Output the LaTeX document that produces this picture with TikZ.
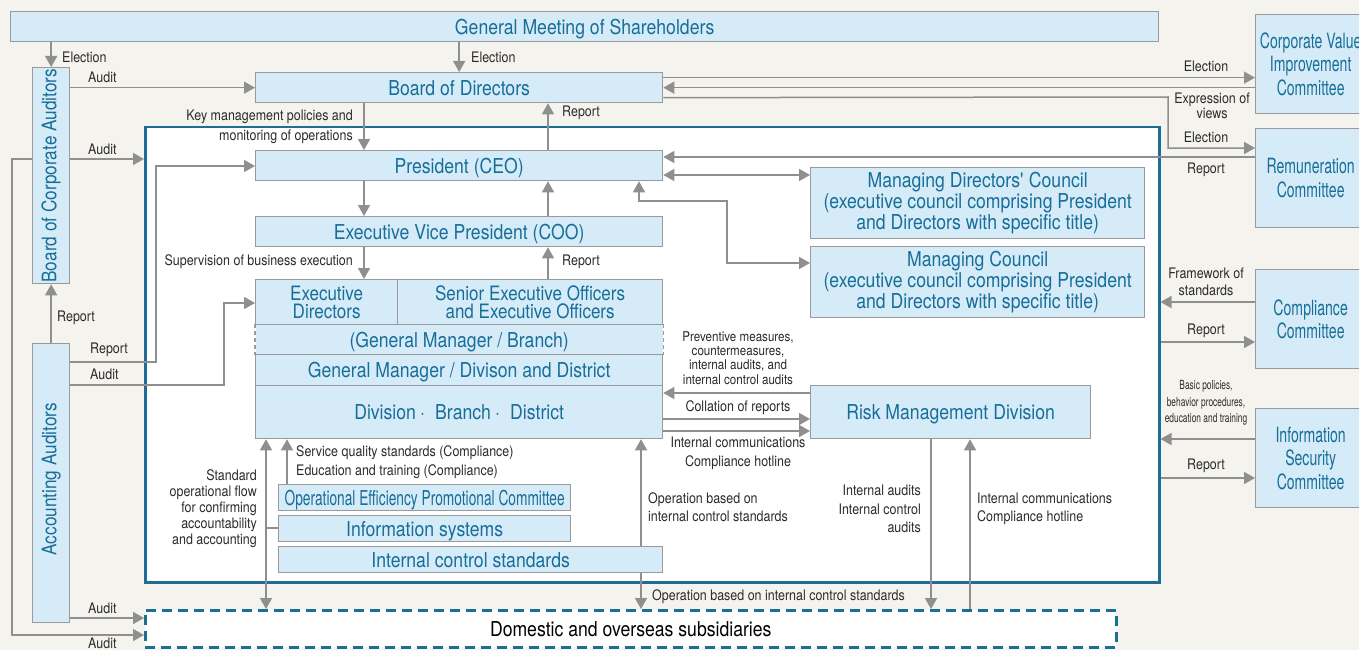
\documentclass[tikz,border=0pt]{standalone}
\usepackage{fontspec}
\setmainfont{TeX Gyre Heros}[FakeStretch=0.86]
\newfontfamily\condfont{TeX Gyre Heros}[FakeStretch=0.67]
\usetikzlibrary{arrows.meta}

\definecolor{bgcol}{HTML}{F5F3EE}
\definecolor{boxfill}{HTML}{D5EBF8}
\definecolor{boxline}{HTML}{9A9A9A}
\definecolor{boxtext}{HTML}{176E99}
\definecolor{framecol}{HTML}{1C6E95}
\definecolor{arrowcol}{HTML}{8F8F8F}
\definecolor{labelcol}{HTML}{2B2B2B}

\begin{document}
\begin{tikzpicture}[x=1pt,y=-1pt,
  box/.style={draw=boxline, fill=boxfill, line width=1.3pt, inner sep=0pt, text=boxtext,
    align=center, anchor=north west, font=\fontsize{20.5}{21}\selectfont},
  oneline/.style={text height=16pt, text depth=1pt},
  cbox/.style={box, font=\condfont\fontsize{21}{23.5}\selectfont},
  vtext/.style={text=boxtext, rotate=90, inner sep=0pt, font=\fontsize{20}{21}\selectfont},
  lbl/.style={text=labelcol, inner sep=0pt, font=\fontsize{14.5}{17}\selectfont},
  arr/.style={draw=arrowcol, line width=1.5pt, -{Triangle[width=12pt,length=11pt]}},
  darr/.style={draw=arrowcol, line width=1.5pt, {Triangle[width=12pt,length=11pt]}-{Triangle[width=12pt,length=11pt]}},
  wire/.style={draw=arrowcol, line width=1.5pt},
]
\useasboundingbox (0,0) rectangle (1359,650);
\clip (0,0) rectangle (1359,650);
\fill[bgcol] (0,0) rectangle (1359,650);

% ---- company frame and subsidiaries ----
\node[draw=framecol, fill=white, line width=2.5pt, minimum width=1014, minimum height=455,
  anchor=north west, inner sep=0pt] (frame) at (144,126) {};
\node[draw=framecol, fill=white, line width=2.5pt, dash pattern=on 10pt off 6pt,
  minimum width=971, minimum height=37, anchor=north west, inner sep=0pt, oneline,
  font=\fontsize{20.5}{21}\selectfont, text=black] (subs) at (144,609) {Domestic and overseas subsidiaries};

% ---- boxes ----
\node[box, oneline, minimum width=1148, minimum height=30] (gms) at (10,11) {General Meeting of Shareholders};
\node[box, minimum width=37, minimum height=216] (bca) at (32,67) {};
\node[vtext] (bcat) at (bca.center) {Board of Corporate Auditors};
\node[box, minimum width=37, minimum height=279] (aa) at (32,343) {};
\node[vtext] (aat) at ([yshift=4]aa.center) {Accounting Auditors};

\node[box, oneline, minimum width=407, minimum height=30] (bod) at (255,72) {Board of Directors};
\node[box, oneline, minimum width=407, minimum height=30] (pres) at (255,150) {President (CEO)};
\node[box, oneline, minimum width=407, minimum height=30] (evp) at (255,216) {Executive Vice President (COO)};

\node[box, oneline, draw=none, minimum width=407, minimum height=30] (gmb) at (255,324) {(General Manager / Branch)};
\draw[boxline, line width=1.3pt, dash pattern=on 4pt off 3pt]
  (gmb.north west) -- (gmb.south west) (gmb.north east) -- (gmb.south east);
\node[box, minimum width=142, minimum height=45, font=\fontsize{19.8}{18.4}\selectfont] (ed) at (255,279) {Executive\\Directors};
\node[box, minimum width=265, minimum height=45, font=\fontsize{19.8}{18.4}\selectfont] (seo) at (397,279) {Senior Executive Officers\\and Executive Officers};
\node[box, oneline, minimum width=407, minimum height=31] (gmd) at (255,354) {General Manager / Divison and District};
\node[box, oneline, minimum width=407, minimum height=53] (dbd) at (255,385)
  {Division\hspace{0.2em}·\hspace{0.5em}Branch\hspace{0.2em}·\hspace{0.5em}District};

\node[box, minimum width=334, minimum height=71] (mdc) at (810,167)
  {Managing Directors\textquotesingle\ Council\\(executive council comprising President\\and Directors with specific title)};
\node[box, minimum width=334, minimum height=71] (mc) at (810,246)
  {Managing Council\\(executive council comprising President\\and Directors with specific title)};
\node[box, oneline, minimum width=280, minimum height=53] (rmd) at (810,385) {Risk Management Division};

\node[cbox, minimum width=110, minimum height=99] (cvic) at (1255,14) {Corporate Value\\Improvement\\Committee};
\node[cbox, minimum width=110, minimum height=99] (rem) at (1255,128) {Remuneration\\Committee};
\node[cbox, minimum width=110, minimum height=99] (comp) at (1255,269) {Compliance\\Committee};
\node[cbox, minimum width=110, minimum height=99] (isc) at (1255,408) {Information\\Security\\Committee};

\node[box, oneline, minimum width=292, minimum height=26, font=\condfont\fontsize{20.5}{21}\selectfont] (oe) at (278,484)
  {Operational Efficiency Promotional Committee};
\node[box, oneline, minimum width=292, minimum height=26] (is) at (278,515) {Information systems};
\node[box, oneline, minimum width=384, minimum height=26] (ics) at (278,546) {Internal control standards};

% ---- connectors: shareholders, directors, executives ----
\draw[arr] (gms.south -| bca.north) -- (bca.north);
\draw[arr] (gms.south -| bod.north) -- (bod.north);
\draw[arr] (bca.east |- bod.west) -- (bod.west);
\draw[arr] (bca.east |- 0,159) -- (frame.west |- 0,159);
\draw[arr] (bod.south -| 364,0) -- (pres.north -| 364,0);
\draw[arr] (pres.north -| 548,0) -- (bod.south -| 548,0);
\draw[arr] (pres.south -| 364,0) -- (evp.north -| 364,0);
\draw[arr] (evp.north -| 548,0) -- (pres.south -| 548,0);
\draw[arr] (evp.south -| 364,0) -- (ed.north -| 364,0);
\draw[arr] (seo.north -| 548,0) -- (evp.south -| 548,0);

% ---- committees of the board ----
\draw[arr] ([yshift=10]bod.east) -- ([yshift=10]bod.east -| cvic.west);
\draw[arr] (cvic.west |- bod.east) -- (bod.east);
\coordinate (remA) at (1168,97);
\coordinate (remB) at (1168,148);
\draw[arr] ([yshift=-10]bod.east) -- (remA) -- (remB) -- (remB -| rem.west);
\draw[arr] (rem.west |- 0,157) -- (pres.east |- 0,157);
\draw[darr] (pres.east |- 0,175) -- (mdc.west |- 0,175);
\coordinate (mcA) at (639,201);
\coordinate (mcB) at (727,201);
\coordinate (mcC) at (727,263);
\draw[darr] (pres.south -| mcA) -- (mcA) -- (mcB) -- (mcC) -- (mcC -| mc.west);

% ---- auditors ----
\draw[arr] (aa.north) -- (bca.south);
\coordinate (aaR1) at (156,362);
\coordinate (aaR2) at (156,166);
\draw[arr] (aa.east |- aaR1) -- (aaR1) -- (aaR2) -- (aaR2 -| pres.west);
\coordinate (aaA1) at (224,385);
\coordinate (aaA2) at (224,303);
\draw[arr] (aa.east |- aaA1) -- (aaA1) -- (aaA2) -- (aaA2 -| ed.west);
\draw[arr] (aa.east |- 0,618) -- (subs.west |- 0,618);
\coordinate (loopA) at (12,159);
\coordinate (loopB) at (12,635);
\draw[arr] (bca.west |- loopA) -- (loopA) -- (loopB) -- (loopB -| subs.west);

% ---- risk management ----
\draw[arr] (rmd.west |- 0,393) -- (dbd.east |- 0,393);
\draw[arr] (dbd.east |- 0,419) -- (rmd.west |- 0,419);
\draw[arr] (dbd.east |- 0,431) -- (rmd.west |- 0,431);
\draw[arr] (rmd.south -| 931,0) -- (subs.north -| 931,0);
\draw[arr] (subs.north -| 970,0) -- (rmd.south -| 970,0);

% ---- standards and systems ----
\draw[arr] (ics.north -| 641,0) -- (dbd.south -| 641,0);
\draw[arr] (ics.south -| 641,0) -- (subs.north -| 641,0);
\draw[darr] (dbd.south -| 266,0) -- (subs.north -| 266,0);
\coordinate (isJ) at (266,528);
\draw[wire] (isJ) -- (isJ -| is.west);
\draw[arr] (oe.north -| 287,0) -- (dbd.south -| 287,0);

% ---- compliance and information security ----
\draw[arr] (comp.west |- 0,302) -- (frame.east |- 0,302);
\draw[arr] (frame.east |- 0,342) -- (comp.west |- 0,342);
\draw[arr] (isc.west |- 0,439) -- (frame.east |- 0,439);
\draw[arr] (frame.east |- 0,478) -- (isc.west |- 0,478);

% ---- labels ----
\node[lbl, anchor=west] (l1) at (62,57) {Election};
\node[lbl, anchor=west] (l2) at (471,57) {Election};
\node[lbl, anchor=west] (l3) at (88,77) {Audit};
\node[lbl, anchor=west] (l4) at (88,149) {Audit};
\node[lbl, anchor=east, align=right, font=\fontsize{14.5}{20}\selectfont] (l5) at (353,127)
  {Key management policies and\\monitoring of operations};
\node[lbl, anchor=west] (l6) at (562,113) {Report};
\node[lbl, anchor=east] (l7) at (353,262) {Supervision of business execution};
\node[lbl, anchor=west] (l8) at (562,262) {Report};
\node[lbl] (l9) at (1206,66) {Election};
\node[lbl, align=center, font=\fontsize{14.5}{15}\selectfont] (l10) at (1212,106) {Expression of\\views};
\node[lbl] (l11) at (1206,137) {Election};
\node[lbl] (l12) at (1206,170) {Report};
\node[lbl, align=center, font=\fontsize{14.5}{17}\selectfont] (l13) at (1206,282) {Framework of\\standards};
\node[lbl] (l14) at (1206,331) {Report};
\node[lbl, align=center, font=\condfont\fontsize{12.5}{16.5}\selectfont] (l15) at (1206,403)
  {Basic policies,\\behavior procedures,\\education and training};
\node[lbl] (l16) at (1206,466) {Report};
\node[lbl, anchor=west] (l17) at (57,318) {Report};
\node[lbl, anchor=west] (l18) at (90,350) {Report};
\node[lbl, anchor=west] (l19) at (90,374) {Audit};
\node[lbl, anchor=west] (l20) at (88,608) {Audit};
\node[lbl, anchor=west] (l21) at (88,643.5) {Audit};
\node[lbl, align=center, font=\fontsize{13.5}{14.3}\selectfont] (l22) at (738,358)
  {Preventive measures,\\countermeasures,\\internal audits, and\\internal control audits};
\node[lbl] (l23) at (738,408) {Collation of reports};
\node[lbl, align=center, font=\fontsize{14.5}{19}\selectfont] (l24) at (738,453)
  {Internal communications\\Compliance hotline};
\node[lbl, anchor=west, align=left, font=\fontsize{14.5}{19}\selectfont] (l25) at (296,462)
  {Service quality standards (Compliance)\\Education and training (Compliance)};
\node[lbl, anchor=east, align=right, font=\fontsize{14.5}{16}\selectfont] (l26) at (257,509)
  {Standard\\operational flow\\for confirming\\accountability\\and accounting};
\node[lbl, anchor=west, align=left, font=\fontsize{14.5}{18.5}\selectfont] (l27) at (648,507)
  {Operation based on\\internal control standards};
\node[lbl, anchor=west] (l28) at (652,597) {Operation based on internal control standards};
\node[lbl, anchor=east, align=right, font=\fontsize{14.5}{18.5}\selectfont] (l29) at (921,509)
  {Internal audits\\Internal control\\audits};
\node[lbl, anchor=west, align=left, font=\fontsize{14.5}{18}\selectfont] (l30) at (977,509)
  {Internal communications\\Compliance hotline};
\end{tikzpicture}
\end{document}
